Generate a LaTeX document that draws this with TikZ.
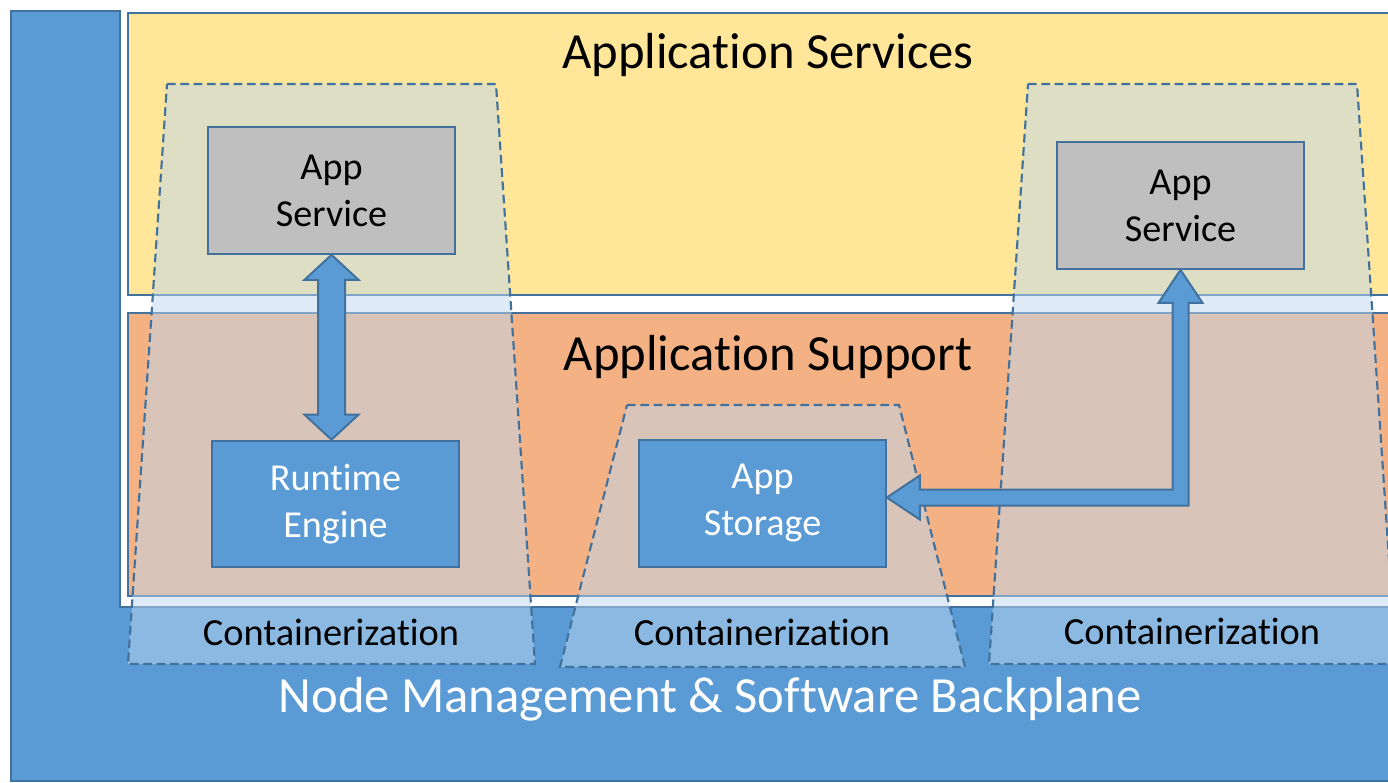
\documentclass[tikz,border=0pt]{standalone}
\usepackage{fontspec}
\setmainfont{Carlito}[Ligatures=NoCommon]
\usepackage{xcolor}
\usetikzlibrary{calc}
\definecolor{bplane}{HTML}{5B9BD5}
\definecolor{edgeblue}{HTML}{41719C}
\definecolor{svcyellow}{HTML}{FFE699}
\definecolor{suporange}{HTML}{F4B183}
\definecolor{ctrblue}{HTML}{BDD7EE}
\definecolor{svcgray}{HTML}{BFBFBF}

\begin{document}
\begin{tikzpicture}[x=0.75pt,y=0.75pt,yscale=-1,xscale=1,
  layer/.style={draw=edgeblue,line width=1.5pt},
  container/.style={draw=edgeblue,line width=1.6pt,dash pattern=on 6.5pt off 3.5pt,fill=ctrblue,fill opacity=0.5},
  appbox/.style={draw=edgeblue,line width=1.5pt,minimum width=185pt,minimum height=95pt,inner sep=0pt,align=center,font=\fontsize{28.6}{35.25}\selectfont},
  layertitle/.style={anchor=base,font=\fontsize{38}{46}\selectfont},
  ctrlabel/.style={anchor=base,font=\fontsize{28.8}{35}\selectfont},
  blockarrow/.style={draw=edgeblue,line width=1.5pt,fill=bplane,line join=miter}]
\useasboundingbox (0,0) rectangle (1388,782);
\clip (0,0) rectangle (1388,782);

%Shape: Backplane (L shape)
\draw [layer,fill=bplane] (11,11) -- (120,11) -- (120,607) -- (1400,607) -- (1400,781) -- (11,781) -- cycle ;
%Shape: Rectangle
\draw [layer,fill=svcyellow] (128,13) rectangle (1400,295) ;
%Shape: Rectangle
\draw [layer,fill=suporange] (128,313) rectangle (1400,596) ;

% Text Node
\draw (768,68) node [layertitle] (servTitle) {Application Services};
% Text Node
\draw (768,370) node [layertitle] (suppTitle) {Application Support};
% Text Node
\draw (710,712) node [layertitle,text=white] (bplaneTitle) {Node Management \& Software Backplane};

%Shape: Trapezoid
\draw [container] (167,84) -- (496,84) -- (535,664) -- (128,664) -- cycle ;
%Shape: Trapezoid
\draw [container] (627,405) -- (899,405) -- (965,667) -- (560,667) -- cycle ;
%Shape: Trapezoid
\draw [container] (1028,84) -- (1357,84) -- (1396,664) -- (989,664) -- cycle ;

% Text Node
\draw (331,645) node [ctrlabel] (ctrA) {Containerization};
% Text Node
\draw (762,645) node [ctrlabel] (ctrB) {Containerization};
% Text Node
\draw (1192,644) node [ctrlabel] (ctrC) {Containerization};

%Shape: Rectangle
\draw (331.5,190.5) node [appbox,fill=svcgray] (svcL) {App\\Service};
%Shape: Rectangle
\draw (1180.5,205.5) node [appbox,fill=svcgray] (svcR) {App\\Service};
%Shape: Rectangle
\draw (335.5,504) node [appbox,fill=bplane,text=white] (runtime) {Runtime\\Engine};
%Shape: Rectangle
\draw (762.5,503.5) node [appbox,fill=bplane,text=white] (storage) {App\\Storage};

%Block Arrow: up-down
\coordinate (engTop) at (svcL.south |- runtime.north);
\draw [blockarrow] (svcL.south) -- ($(svcL.south)+(27,25)$) -- ($(svcL.south)+(13.5,25)$) -- ($(engTop)+(13.5,-25)$) -- ($(engTop)+(27,-25)$) -- (engTop) -- ($(engTop)+(-27,-25)$) -- ($(engTop)+(-13.5,-25)$) -- ($(svcL.south)+(-13.5,25)$) -- ($(svcL.south)+(-27,25)$) -- cycle ;

%Block Arrow: elbow
\coordinate (stoTip) at ($(storage.east)+(0,-6)$);
\coordinate (bend) at (svcR.south |- stoTip);
\draw [blockarrow] (svcR.south) -- ($(svcR.south)+(22,33)$) -- ($(svcR.south)+(8,33)$) -- ($(bend)+(8,8)$) -- ($(stoTip)+(33,8)$) -- ($(stoTip)+(33,22)$) -- (stoTip) -- ($(stoTip)+(33,-22)$) -- ($(stoTip)+(33,-8)$) -- ($(bend)+(-8,-8)$) -- ($(svcR.south)+(-8,33)$) -- ($(svcR.south)+(-22,33)$) -- cycle ;

\end{tikzpicture}
\end{document}
